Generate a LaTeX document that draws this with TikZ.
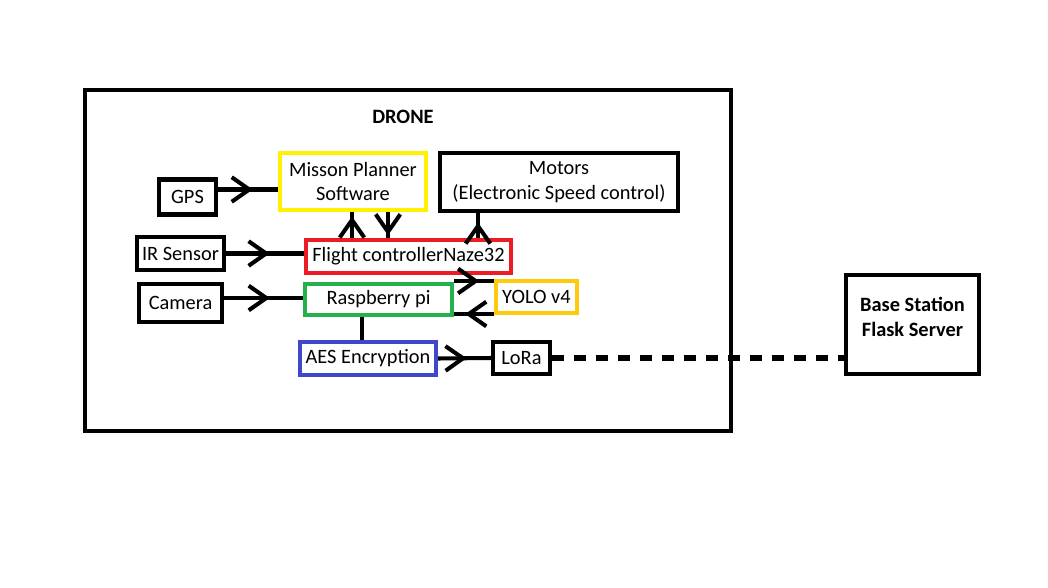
\documentclass[tikz,border=0pt]{standalone}
\usepackage{fontspec}
\setmainfont{Carlito}
\usetikzlibrary{
arrows.meta,
decorations.markings,
positioning
}
\definecolor{pyellow}{RGB}{255,242,0}
\definecolor{pred}{RGB}{237,28,36}
\definecolor{pgreen}{RGB}{34,177,76}
\definecolor{pgold}{RGB}{255,201,14}
\definecolor{pblue}{RGB}{63,72,204}
\newcommand{\paintfont}{\fontsize{11.6pt}{14pt}\selectfont}

\begin{document}
\begin{tikzpicture}[x=0.02cm, y=-0.02cm, font=\paintfont,
		blk/.style={draw, line width=2.3pt, inner sep=0pt, align=center},
		flow/.style={line width=2.3pt, postaction={decorate, decoration={markings,
				mark=at position #1 with {\arrow{Straight Barb[length=10pt,width=14pt]}}}}},
		link/.style={line width=2.3pt}]
		\useasboundingbox (0,0) rectangle (1048,588);

		% drone frame
		\node[blk, line width=2.6pt, minimum width=12.92cm, minimum height=6.82cm] (drone) at (408,260.5) {};
		\node[font=\paintfont\bfseries] (title) at (403,117) {DRONE};

		% blocks
		\node[blk, minimum width=1.14cm, minimum height=0.70cm] (gps) at (187.5,197) {GPS};
		\node[blk, draw=pyellow, minimum width=2.92cm, minimum height=1.14cm] (plan) at (353,181.5) {Misson Planner\\Software};
		\node[blk, minimum width=4.76cm, minimum height=1.16cm] (motors) at (559,182) {Motors\\(Electronic Speed control)};
		\node[blk, minimum width=1.74cm, minimum height=0.66cm] (ir) at (180.5,253.5) {IR Sensor};
		\node[blk, draw=pred, minimum width=4.10cm, minimum height=0.66cm] (fc) at (408.5,256.5) {Flight controllerNaze32};
		\node[blk, minimum width=1.66cm, minimum height=0.76cm] (cam) at (180.5,303) {Camera};
		\node[blk, draw=pgreen, minimum width=2.94cm, minimum height=0.62cm] (rpi) at (378.5,299.5) {Raspberry pi};
		\node[blk, draw=pgold, minimum width=1.62cm, minimum height=0.64cm] (yolo) at (536.5,297) {YOLO v4};
		\node[blk, draw=pblue, minimum width=2.72cm, minimum height=0.66cm] (aes) at (368,358.5) {AES Encryption};
		\node[blk, minimum width=1.14cm, minimum height=0.64cm] (lora) at (521.5,358) {LoRa};
		\node[blk, line width=2.8pt, minimum width=2.66cm, minimum height=1.98cm] (base) at (912.5,324.5) {};
		\node[font=\paintfont\bfseries, align=center] (basetxt) at (912.5,317) {Base Station\\Flask Server};

		% connectors
		\coordinate (up) at ([xshift=-0.02cm]plan.south);
		\coordinate (down) at ([xshift=0.7cm]plan.south);
		\coordinate (mot) at ([xshift=0.8cm]motors.south west);
		\coordinate (rtop) at ([yshift=0.02cm]rpi.north east);
		\coordinate (rbot) at ([yshift=0.06cm]rpi.south east);
		\coordinate (aestop) at ([xshift=-0.12cm]aes.north);

		\draw[flow=0.58] ([yshift=0.15cm]gps.east) -- ([yshift=0.15cm]gps.east -| plan.west);
		\draw[flow=0.56] (ir.east) -- (ir.east -| fc.west);
		\draw[flow=0.58] ([yshift=0.1cm]cam.east) -- ([yshift=0.1cm]cam.east -| rpi.west);
		\draw[flow=0.83] (up |- fc.north) -- (up);
		\draw[flow=0.9] (down) -- (down |- fc.north);
		\draw[flow=0.62] (mot |- fc.north) -- (mot);
		\draw[flow=0.63] (rtop) -- (rtop -| yolo.west);
		\draw[flow=0.72] (rbot -| yolo.west) -- (rbot);
		\draw[link] (aestop) -- (aestop |- rpi.south);
		\draw[flow=0.54] (aes.east) -- (lora.west);
		\draw[line width=3pt, dash pattern=on 7pt off 5.5pt] (lora.east) -- (lora.east -| base.west);
\end{tikzpicture}
\end{document}
